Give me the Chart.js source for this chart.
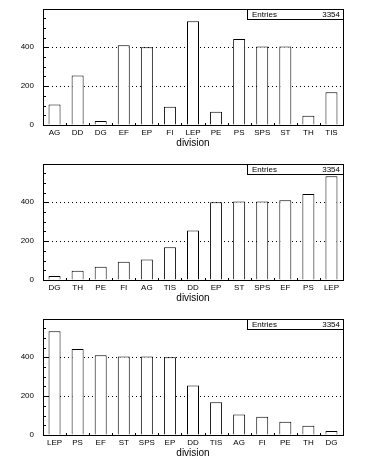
<!DOCTYPE html>
<html><head><meta charset="utf-8">
<script src="https://cdn.jsdelivr.net/npm/chart.js@4"></script>
<style>
html,body{margin:0;padding:0;background:#fff;}
#wrap{position:relative;width:387px;height:465px;}
canvas{position:absolute;left:0;}
</style></head>
<body><div id="wrap">
<canvas id="c1" width="387" height="155" style="top:0px"></canvas>
<canvas id="c2" width="387" height="155" style="top:155px"></canvas>
<canvas id="c3" width="387" height="155" style="top:310px"></canvas>
</div>
<script>
const categories = ["AG","DD","DG","EF","EP","FI","LEP","PE","PS","SPS","ST","TH","TIS"];
const counts     = [106, 255, 20, 410, 400, 94, 534, 68, 443, 404, 404, 48, 168];
const entriesLabel = "Entries";
const entries = 3354;
const axisTitle = "division";
const yTickLabels = [0, 200, 400];

const FONT = "'Liberation Sans', Arial, sans-serif";

function sortedOrder(dir){
  const idx = categories.map((c,i)=>i);
  idx.sort((a,b)=> (dir*(counts[a]-counts[b])) || (b-a));
  return idx;
}

const framePlugin = {
  id:'frame',
  afterDraw(chart){
    const {ctx, chartArea:a, scales} = chart;
    ctx.save();
    ctx.strokeStyle='#000'; ctx.lineWidth=1;
    ctx.strokeRect(Math.round(a.left)+0.5, Math.round(a.top)+0.5, Math.round(a.right-a.left), Math.round(a.bottom-a.top));
    const y = scales.y;
    for(let v=0; v<=y.max; v+=50){
      const py = Math.round(y.getPixelForValue(v))+0.5;
      const len = (v%200===0)?6:3;
      ctx.beginPath(); ctx.moveTo(a.left, py); ctx.lineTo(a.left+len, py); ctx.stroke();
    }
    const x = scales.x;
    const n = chart.data.labels.length;
    const w = (a.right-a.left)/n;
    for(let i=1;i<n;i++){
      const px = Math.round(x.getPixelForValue(i) - w/2)+0.5;
      ctx.beginPath(); ctx.moveTo(px, a.bottom); ctx.lineTo(px, a.bottom-2); ctx.stroke();
    }
    const bx = 247, by = Math.round(a.top), bw = Math.round(a.right)-247, bh = 10;
    ctx.fillStyle='#fff';
    ctx.fillRect(bx+0.5, by+0.5, bw, bh);
    ctx.strokeRect(bx+0.5, by+0.5, bw, bh);
    ctx.fillStyle='#000';
    ctx.font = "8px " + FONT;
    ctx.textBaseline='middle';
    ctx.textAlign='left';
    ctx.fillText(entriesLabel, bx+5, by+6);
    ctx.textAlign='right';
    ctx.fillText(String(entries), bx+bw-3, by+6);
    ctx.restore();
  }
};

function makeChart(id, order){
  const labels = order.map(i=>categories[i]);
  const data = order.map(i=>counts[i]);
  new Chart(document.getElementById(id), {
    type:'bar',
    data:{labels, datasets:[{data, backgroundColor:'#fff', borderColor:'#000', borderWidth:1,
      barPercentage:0.52, categoryPercentage:1.0, borderSkipped:'bottom'}]},
    options:{
      responsive:false, animation:false, devicePixelRatio:1,
      layout:{padding:{left:0,right:44,top:9,bottom:0}},
      plugins:{legend:{display:false}, tooltip:{enabled:false}},
      scales:{
        x:{
          offset:true,
          grid:{display:false, drawTicks:false},
          border:{display:true,color:'#000',width:1},
          ticks:{color:'#000', font:{family:FONT,size:8}, padding:3, maxRotation:0, autoSkip:false},
          title:{display:true, text:axisTitle, color:'#000', font:{family:FONT,size:10}, padding:{top:0,bottom:6}},
          afterFit(s){ s.height = 30; }
        },
        y:{
          min:0, max:597,
          ticks:{stepSize:50, color:'#000', font:{family:FONT,size:8}, padding:3,
            callback:(v)=> yTickLabels.includes(v) ? String(v) : ''},
          grid:{drawTicks:true, tickLength:6, tickColor:'rgba(0,0,0,0)',
            color:(c)=> (c.tick && (c.tick.value===200||c.tick.value===400)) ? '#000' : 'rgba(0,0,0,0)',
            lineWidth:1},
          border:{display:true,color:'#000',width:1, dash:[1,3]},
          afterFit(s){ s.width = 43; }
        }
      }
    },
    plugins:[framePlugin]
  });
}

makeChart('c1', categories.map((c,i)=>i));
makeChart('c2', sortedOrder(1));
makeChart('c3', sortedOrder(-1));
</script>
</body></html>
